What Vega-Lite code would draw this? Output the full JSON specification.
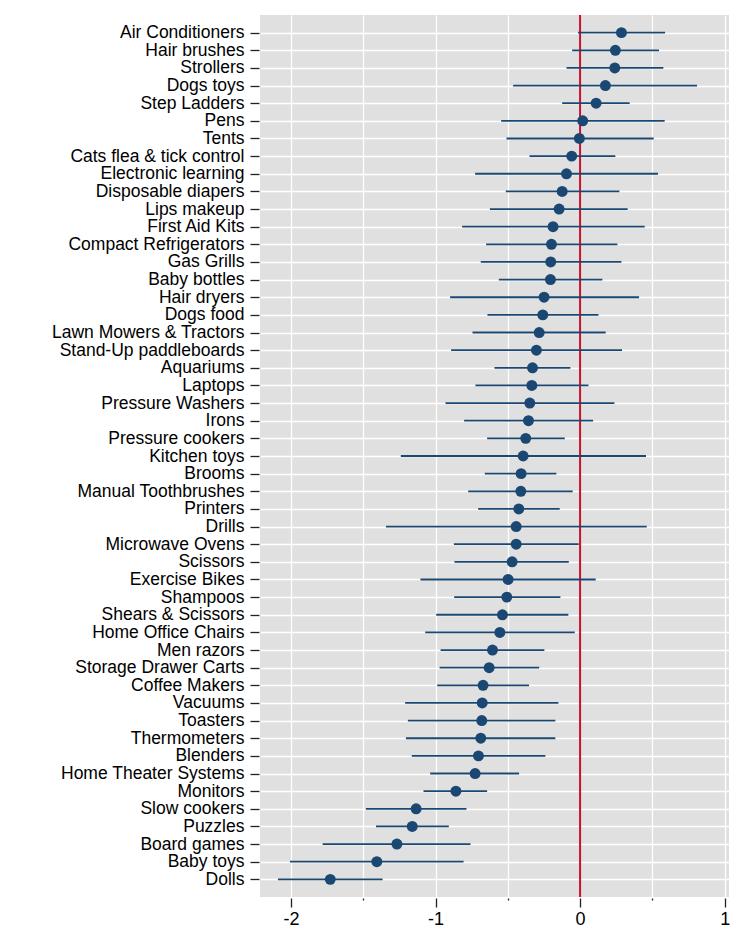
{
  "$schema": "https://vega.github.io/schema/vega-lite/v6.json",
  "autosize": {"type": "none"},
  "padding": {"left": 260, "top": 15, "right": 4, "bottom": 32},
  "width": 469,
  "height": 882,
  "background": "white",
  "config": {
    "view": {"fill": "#e0e0e0", "stroke": null},
    "font": "Liberation Sans"
  },
  "data": {
    "values": [
      {"item": "Air Conditioners", "est": 0.286, "lo": -0.014, "hi": 0.588},
      {"item": "Hair brushes", "est": 0.244, "lo": -0.055, "hi": 0.546},
      {"item": "Strollers", "est": 0.240, "lo": -0.094, "hi": 0.576},
      {"item": "Dogs toys", "est": 0.175, "lo": -0.463, "hi": 0.809},
      {"item": "Step Ladders", "est": 0.111, "lo": -0.124, "hi": 0.343},
      {"item": "Pens", "est": 0.018, "lo": -0.546, "hi": 0.585},
      {"item": "Tents", "est": -0.005, "lo": -0.509, "hi": 0.509},
      {"item": "Cats flea & tick control", "est": -0.058, "lo": -0.350, "hi": 0.244},
      {"item": "Electronic learning", "est": -0.094, "lo": -0.726, "hi": 0.539},
      {"item": "Disposable diapers", "est": -0.124, "lo": -0.514, "hi": 0.272},
      {"item": "Lips makeup", "est": -0.145, "lo": -0.624, "hi": 0.329},
      {"item": "First Aid Kits", "est": -0.187, "lo": -0.816, "hi": 0.447},
      {"item": "Compact Refrigerators", "est": -0.198, "lo": -0.650, "hi": 0.258},
      {"item": "Gas Grills", "est": -0.203, "lo": -0.687, "hi": 0.286},
      {"item": "Baby bottles", "est": -0.205, "lo": -0.562, "hi": 0.154},
      {"item": "Hair dryers", "est": -0.249, "lo": -0.899, "hi": 0.408},
      {"item": "Dogs food", "est": -0.258, "lo": -0.641, "hi": 0.127},
      {"item": "Lawn Mowers & Tractors", "est": -0.283, "lo": -0.744, "hi": 0.177},
      {"item": "Stand-Up paddleboards", "est": -0.302, "lo": -0.892, "hi": 0.290},
      {"item": "Aquariums", "est": -0.329, "lo": -0.592, "hi": -0.067},
      {"item": "Laptops", "est": -0.334, "lo": -0.724, "hi": 0.058},
      {"item": "Pressure Washers", "est": -0.348, "lo": -0.931, "hi": 0.237},
      {"item": "Irons", "est": -0.357, "lo": -0.802, "hi": 0.090},
      {"item": "Pressure cookers", "est": -0.376, "lo": -0.643, "hi": -0.106},
      {"item": "Kitchen toys", "est": -0.394, "lo": -1.240, "hi": 0.456},
      {"item": "Brooms", "est": -0.408, "lo": -0.659, "hi": -0.164},
      {"item": "Manual Toothbrushes", "est": -0.410, "lo": -0.774, "hi": -0.051},
      {"item": "Printers", "est": -0.424, "lo": -0.705, "hi": -0.141},
      {"item": "Drills", "est": -0.442, "lo": -1.343, "hi": 0.461},
      {"item": "Microwave Ovens", "est": -0.442, "lo": -0.873, "hi": -0.009},
      {"item": "Scissors", "est": -0.470, "lo": -0.869, "hi": -0.078},
      {"item": "Exercise Bikes", "est": -0.498, "lo": -1.104, "hi": 0.108},
      {"item": "Shampoos", "est": -0.507, "lo": -0.871, "hi": -0.136},
      {"item": "Shears & Scissors", "est": -0.537, "lo": -0.995, "hi": -0.081},
      {"item": "Home Office Chairs", "est": -0.555, "lo": -1.071, "hi": -0.037},
      {"item": "Men razors", "est": -0.606, "lo": -0.965, "hi": -0.247},
      {"item": "Storage Drawer Carts", "est": -0.629, "lo": -0.972, "hi": -0.283},
      {"item": "Coffee Makers", "est": -0.671, "lo": -0.988, "hi": -0.353},
      {"item": "Vacuums", "est": -0.677, "lo": -1.210, "hi": -0.150},
      {"item": "Toasters", "est": -0.680, "lo": -1.191, "hi": -0.171},
      {"item": "Thermometers", "est": -0.687, "lo": -1.205, "hi": -0.171},
      {"item": "Blenders", "est": -0.703, "lo": -1.164, "hi": -0.240},
      {"item": "Home Theater Systems", "est": -0.726, "lo": -1.037, "hi": -0.422},
      {"item": "Monitors", "est": -0.859, "lo": -1.083, "hi": -0.643},
      {"item": "Slow cookers", "est": -1.134, "lo": -1.482, "hi": -0.786},
      {"item": "Puzzles", "est": -1.161, "lo": -1.412, "hi": -0.908},
      {"item": "Board games", "est": -1.267, "lo": -1.781, "hi": -0.758},
      {"item": "Baby toys", "est": -1.406, "lo": -2.007, "hi": -0.806},
      {"item": "Dolls", "est": -1.728, "lo": -2.090, "hi": -1.366}
    ]
  },
  "encoding": {
    "y": {
      "field": "item",
      "type": "ordinal",
      "sort": null,
      "scale": {"type": "point", "padding": 1},
      "axis": {
        "title": null,
        "domain": false,
        "offset": 1,
        "tickSize": 9,
        "tickWidth": 1.3,
        "tickColor": "#222222",
        "labelPadding": 6,
        "labelFontSize": 17.5,
        "labelLimit": 400,
        "labelColor": "black",
        "labelFont": "Liberation Sans",
        "gridColor": "white",
        "gridWidth": 1.3,
        "grid": true
      }
    }
  },
  "layer": [
    {
      "mark": {"type": "rule", "color": "#c8102e", "strokeWidth": 2},
      "data": {"values": [{"zero": 0}]},
      "encoding": {
        "x": {"field": "zero", "type": "quantitative"},
        "y": null
      }
    },
    {
      "mark": {"type": "rule", "color": "#1b4872", "strokeWidth": 1.8},
      "encoding": {
        "x": {
          "field": "lo",
          "type": "quantitative",
          "scale": {"domain": [-2.214, 1.03], "nice": false, "zero": false},
          "axis": {
            "title": null,
            "domain": false,
            "offset": 1,
            "values": [-2, -1.5, -1, -0.5, 0, 0.5, 1],
            "labelExpr": "datum.value % 1 === 0 ? '' + datum.value : ''",
            "tickSize": {"condition": {"test": "datum.value % 1 === 0", "value": 9}, "value": 2},
            "tickWidth": 1.3,
            "tickColor": "#222222",
            "labelPadding": 3,
            "labelFontSize": 18,
            "labelColor": "black",
            "labelFont": "Liberation Sans",
            "grid": true,
            "gridColor": "white",
            "gridWidth": 1.3
          }
        },
        "x2": {"field": "hi"}
      }
    },
    {
      "mark": {"type": "point", "filled": true, "color": "#1b4872", "opacity": 1, "size": 120},
      "encoding": {
        "x": {"field": "est", "type": "quantitative"}
      }
    }
  ]
}
